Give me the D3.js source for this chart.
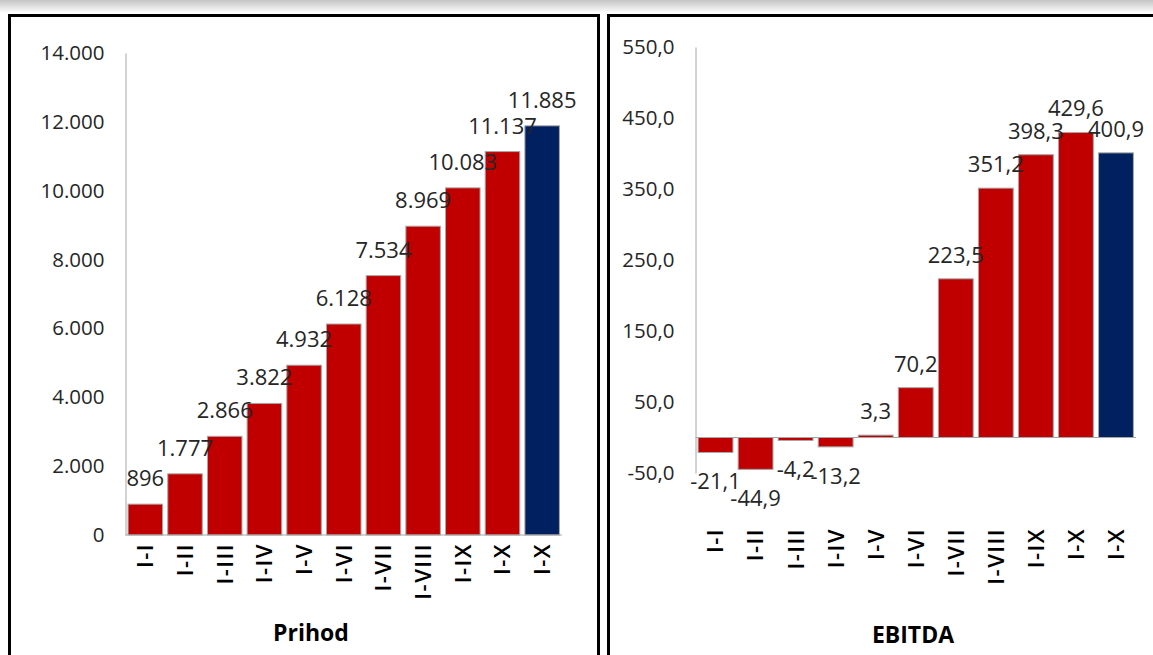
<!doctype html>
<html>
<head>
  <meta charset="utf-8">
  <title>Prihod i EBITDA</title>
  <script src="https://cdn.jsdelivr.net/npm/d3@7"></script>
  <style>
    body { margin: 0; background: #fff; }
    svg { display: block; font-family: "Open Sans", sans-serif; }
  </style>
</head>
<body>
  <div id="chart"></div>

  <script type="text/javascript">
    var categories = ['I-I', 'I-II', 'I-III', 'I-IV', 'I-V', 'I-VI', 'I-VII', 'I-VIII', 'I-IX', 'I-X', 'I-X'];
    var prihod = [896, 1777, 2866, 3822, 4932, 6128, 7534, 8969, 10083, 11137, 11885];
    var ebitda = [-21.1, -44.9, -4.2, -13.2, 3.3, 70.2, 223.5, 351.2, 398.3, 429.6, 400.9];
    var prihodTicks = [0, 2000, 4000, 6000, 8000, 10000, 12000, 14000];
    var ebitdaTicks = [-50, 50, 150, 250, 350, 450, 550];

    var width = 1153;
    var height = 655;
    var red = '#c00000';
    var navy = '#002060';

    var loc = d3.formatLocale({ decimal: ',', thousands: '.', grouping: [3], currency: ['', ''], minus: '-' });
    var fmtInt = loc.format(',.0f');
    var fmt1 = loc.format(',.1f');

    var svg = d3.select('div#chart')
      .append('svg')
      .attr('width', width)
      .attr('height', height);

    // grey shadow strip at the top
    var grad = svg.append('defs').append('linearGradient')
      .attr('id', 'shade').attr('x1', 0).attr('y1', 0).attr('x2', 0).attr('y2', 1);
    grad.append('stop').attr('offset', '0%').attr('stop-color', '#c4c4c4');
    grad.append('stop').attr('offset', '100%').attr('stop-color', '#ffffff');
    svg.append('rect').attr('x', 0).attr('y', 0).attr('width', width).attr('height', 13)
      .attr('fill', 'url(#shade)');

    // panel frames
    svg.append('rect').attr('x', 9.5).attr('y', 15.5).attr('width', 589).attr('height', 660)
      .attr('fill', 'none').attr('stroke', '#000').attr('stroke-width', 3);
    svg.append('rect').attr('x', 608.5).attr('y', 15.5).attr('width', 560).attr('height', 660)
      .attr('fill', 'none').attr('stroke', '#000').attr('stroke-width', 3);

    function drawChart(opts) {
      var values = opts.values;
      var last = values.length - 1;

      var x = d3.scaleBand()
        .domain(d3.range(values.length))
        .range(opts.xRange)
        .paddingInner(0.13)
        .paddingOuter(0.065);

      var y = d3.scaleLinear()
        .domain(opts.yDomain)
        .range(opts.yRange);

      var g = svg.append('g');

      // y axis
      var yAxis = g.append('g')
        .attr('transform', 'translate(' + opts.xRange[0] + ',0)')
        .call(d3.axisLeft(y).tickValues(opts.ticks).tickFormat(opts.tickFormat)
          .tickSize(0).tickSizeOuter(0).tickPadding(21));
      yAxis.select('.domain').attr('stroke', '#a6a6a6');
      yAxis.selectAll('text')
        .attr('font-size', '20.5px')
        .attr('font-family', '"Open Sans", sans-serif')
        .attr('fill', '#262626');

      // bars
      g.selectAll('rect.bar')
        .data(values)
        .enter()
        .append('rect')
        .attr('class', 'bar')
        .attr('x', function(d, i) { return x(i); })
        .attr('y', function(d) { return y(Math.max(0, d)); })
        .attr('width', x.bandwidth())
        .attr('height', function(d) { return Math.abs(y(d) - y(0)); })
        .attr('fill', function(d, i) { return i === last ? navy : red; })
        .attr('stroke', '#a6a6a6')
        .attr('stroke-width', 1);

      // zero baseline
      g.append('line')
        .attr('x1', opts.xRange[0]).attr('x2', opts.xRange[1])
        .attr('y1', y(0)).attr('y2', y(0))
        .attr('stroke', '#a6a6a6');

      // value labels
      g.selectAll('text.val')
        .data(values)
        .enter()
        .append('text')
        .attr('class', 'val')
        .text(function(d) { return opts.valueFormat(d); })
        .attr('x', function(d, i) { return x(i) + x.bandwidth() / 2; })
        .attr('y', function(d) { return d >= 0 ? y(d) - opts.labelGap : y(d) + 37; })
        .attr('text-anchor', 'middle')
        .attr('font-size', '22px')
        .attr('fill', '#262626');

      // category axis, labels rotated
      var xAxis = g.append('g')
        .attr('transform', 'translate(0,' + opts.catY + ')')
        .call(d3.axisBottom(x).tickFormat(function(i) { return categories[i]; }).tickSize(0));
      xAxis.select('.domain').remove();
      xAxis.selectAll('text')
        .attr('transform', 'rotate(-90)')
        .attr('x', 0)
        .attr('y', 0)
        .attr('dy', '0.36em')
        .attr('text-anchor', 'end')
        .attr('font-size', '22px')
        .attr('font-weight', 600)
        .attr('letter-spacing', '1.5px')
        .attr('font-family', '"Open Sans", sans-serif')
        .attr('fill', '#000');

      // title
      g.append('text')
        .text(opts.title)
        .attr('x', opts.titleX)
        .attr('y', opts.titleY)
        .attr('text-anchor', 'middle')
        .attr('font-size', '23px')
        .attr('font-weight', 'bold')
        .attr('fill', '#000');
    }

    drawChart({
      values: prihod,
      ticks: prihodTicks,
      tickFormat: fmtInt,
      valueFormat: fmtInt,
      xRange: [125.5, 562],
      yDomain: [0, 14000],
      yRange: [535, 53],
      labelGap: 18,
      catY: 543,
      title: 'Prihod',
      titleX: 311,
      titleY: 641
    });

    drawChart({
      values: ebitda,
      ticks: ebitdaTicks,
      tickFormat: fmt1,
      valueFormat: fmt1,
      xRange: [695.5, 1136],
      yDomain: [-50, 550],
      yRange: [473, 47],
      labelGap: 16,
      catY: 528,
      title: 'EBITDA',
      titleX: 913,
      titleY: 643
    });
  </script>
</body>
</html>
